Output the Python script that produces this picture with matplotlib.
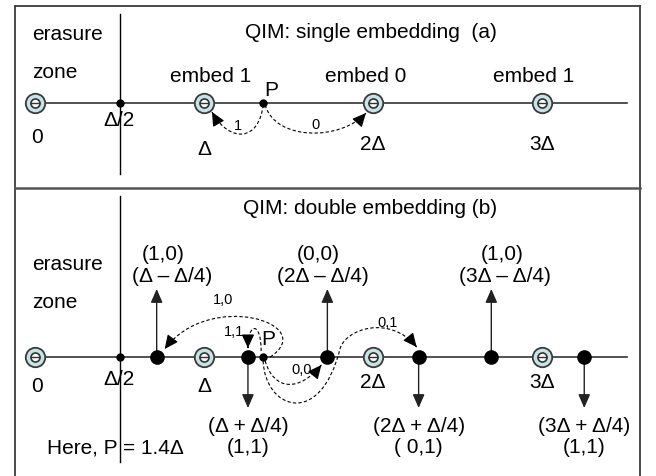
import matplotlib
matplotlib.use('Agg')
import matplotlib.pyplot as plt
from matplotlib.path import Path
from matplotlib.patches import PathPatch
import numpy as np

plt.rcParams['font.family'] = ['Liberation Sans', 'DejaVu Sans']

# ---------------- data (positions in units of Δ) ----------------
lattice_pos = [0, 1, 2, 3]
lattice_labels = ['0', 'Δ', '2Δ', '3Δ']
embed_pos = [1, 2, 3]
embed_labels = ['embed 1', 'embed 0', 'embed 1']
half_pos = 0.5
half_label = 'Δ/2'
p_pos = 1.35
p_note = 'Here, P = 1.4Δ'
axis_end = 3.5

up_pos = [0.72, 1.73, 2.70]
up_codes = ['(1,0)', '(0,0)', '(1,0)']
up_labels = ['(Δ – Δ/4)', '(2Δ – Δ/4)', '(3Δ – Δ/4)']
down_pos = [1.26, 2.27, 3.25]
down_codes = ['(1,1)', '( 0,1)', '(1,1)']
down_labels = ['(Δ + Δ/4)', '(2Δ + Δ/4)', '(3Δ + Δ/4)']

single_targets = [1, 2]
single_arrow_labels = ['1', '0']
double_targets = [0.72, 1.26, 1.73, 2.27]
double_arrow_labels = ['1,0', '1,1', '0,0', '0,1']

# ---------------- layout ----------------
W, H = 656, 477
X0, PXD = 35.0, 169.0          # pixel of 0 and pixels per Δ
fig = plt.figure(figsize=(W / 100, H / 100), dpi=100)
ax = fig.add_axes([0, 0, 1, 1])
ax.set_xlim(-X0 / PXD, (W - X0) / PXD)
ax.set_ylim(H, 0)
ax.axis('off')

def xp(px):  # pixel -> data x
    return (px - X0) / PXD

def off(pt, dx, dy):
    return (pt[0] + dx / PXD, pt[1] + dy)

TOP_Y, BOT_Y = 104, 358
LINE_C = '#333333'
FS = 15
SFS = 10.5

# frame
fc = '#3c3c3c'
ax.plot([15 / W, 15 / W], [0, 1 - 7 / H], color=fc, lw=1.3, transform=ax.transAxes)
ax.plot([640 / W, 640 / W], [0, 1 - 7 / H], color=fc, lw=1.3, transform=ax.transAxes)
ax.plot([15 / W, 640 / W], [1 - 7 / H, 1 - 7 / H], color=fc, lw=1.3, transform=ax.transAxes)
ax.plot([15 / W, 640 / W], [1 - 189 / H, 1 - 189 / H], color='#555555', lw=1.8, transform=ax.transAxes)

# erasure zone boundaries
ax.plot([half_pos, half_pos], [15, 175], color='k', lw=1.0, zorder=2)
ax.plot([half_pos, half_pos], [197, 463], color='k', lw=1.0, zorder=2)

# axis lines
for yy in (TOP_Y, BOT_Y):
    ax.plot([lattice_pos[0], axis_end], [yy, yy], color=LINE_C, lw=1.2, zorder=2)

def lattice_markers(yy):
    ys = [yy] * len(lattice_pos)
    ax.plot(lattice_pos, ys, 'o', ms=14, mfc='#c6e3e6', mec='#3a3a3a', mew=1.3, zorder=5)
    ax.plot(lattice_pos, ys, 'o', ms=6.5, mfc='white', mec='#333333', mew=1.2, zorder=6)
    ax.plot(lattice_pos, ys, '_', ms=6.5, mec='#333333', mew=1.0, zorder=7)

lattice_markers(TOP_Y)
lattice_markers(BOT_Y)

# small dots at Δ/2 and P
ax.plot([half_pos, p_pos], [TOP_Y, TOP_Y], 'o', ms=5, color='k', zorder=6)
ax.plot([half_pos, p_pos], [BOT_Y, BOT_Y], 'o', ms=5, color='k', zorder=6)

# big dots in double embedding
ax.plot(up_pos + down_pos, [BOT_Y] * 6, 'o', ms=9.5, color='k', zorder=6)

# vertical arrows
vprops = dict(arrowstyle='-|>,head_length=0.55,head_width=0.24', color='#222222',
              lw=1.0, shrinkA=0, shrinkB=0, mutation_scale=15)
for x in up_pos:
    ax.annotate('', xy=(x, 290), xytext=(x, BOT_Y), arrowprops=vprops, zorder=3)
for x in down_pos:
    ax.annotate('', xy=(x, 409), xytext=(x, BOT_Y), arrowprops=vprops, zorder=3)

# dashed curved arrows
hprops = dict(arrowstyle='-|>,head_length=0.6,head_width=0.28', color='k',
              lw=0.8, shrinkA=0, shrinkB=0, mutation_scale=14)

def curve(points):
    codes = [Path.MOVETO] + [Path.CURVE4] * (len(points) - 1)
    ax.add_patch(PathPatch(Path(points, codes), fill=False, ls=(0, (3, 2)),
                           lw=0.8, ec='k', zorder=4))
    end, ctrl = np.array(points[-1]), np.array(points[-2])
    start = end + 0.03 * (ctrl - end)
    ax.annotate('', xy=tuple(end), xytext=tuple(start), arrowprops=hprops, zorder=8)

# top panel
P_top = (p_pos, TOP_Y + 2)
B = (single_targets[0] + 8 / PXD, TOP_Y + 9)
curve([P_top, off(P_top, -4, 36), off(B, 18, 32), B])
B = (single_targets[1] - 7 / PXD, TOP_Y + 10)
A = off(P_top, 2, 0)
curve([A, off(A, 10, 36), off(B, -25, 28), B])

# bottom panel
P_bot = (p_pos, BOT_Y)
B = (double_targets[0] + 8 / PXD, BOT_Y - 8)
A = off(P_bot, 7, 0)
curve([A, off(A, 50, -33), off(B, 45, -60), B])
B = (double_targets[1], BOT_Y - 9)
A = off(P_bot, -2, -6)
curve([A, off(A, 0, -30), off(B, 0, -26), B])
B = (double_targets[2] - 6 / PXD, BOT_Y + 8)
A = off(P_bot, 2, 4)
curve([A, off(A, 9, 30), off(B, -22, 27), B])
B = (double_targets[3] - 2 / PXD, BOT_Y - 10)
A = off(P_bot, 0, 4)
M = (xp(340), 350)
curve([A, (xp(265), 410), (xp(320), 430), M, (xp(345), 330), (xp(390), 315), B])

# ---------------- text ----------------
def t(x, y, s, fs=FS, ha='center', **kw):
    ax.text(x, y, s, fontsize=fs, ha=ha, va='center', color='k', **kw)

# top panel
t(xp(32), 35, 'erasure', ha='left')
t(xp(32), 73, 'zone', ha='left')
t(xp(371), 33, 'QIM: single embedding  (a)')
for x, s, dx in zip(embed_pos, embed_labels, [7, -7, -8]):
    t(x + dx / PXD, 76, s)
t(xp(271), 91, 'P')
for x, s, yy in zip(lattice_pos, lattice_labels, [138, 150, 145, 145]):
    t(x + (2 / PXD if x == 0 else 0), yy, s)
t(half_pos, 121, half_label)
for (px_, py_), s in zip([(238, 126), (316, 125)], single_arrow_labels):
    t(xp(px_), py_, s, fs=SFS)

# bottom panel
t(xp(32), 265, 'erasure', ha='left')
t(xp(32), 303, 'zone', ha='left')
t(xp(370), 209, 'QIM: double embedding (b)')
for x, c, s, dc, dl in zip(up_pos, up_codes, up_labels, [7, -9, 11], [15, -4, 14]):
    t(x + dc / PXD, 255, c)
    t(x + dl / PXD, 277, s)
for x, c, s in zip(down_pos, down_codes, down_labels):
    t(x, 427, s)
    t(x, 448, c)
t(xp(47), 448, p_note, ha='left')
t(xp(268), 340, 'P')
for x, s, yy in zip(lattice_pos, lattice_labels, [387, 387, 383, 383]):
    t(x + (2 / PXD if x == 0 else 0), yy, s)
t(half_pos, 380, half_label)
for (px_, py_), s in zip([(223, 300), (234, 332), (302, 370), (388, 323)], double_arrow_labels):
    t(xp(px_), py_, s, fs=SFS)

fig.savefig('out.png', dpi=100)
